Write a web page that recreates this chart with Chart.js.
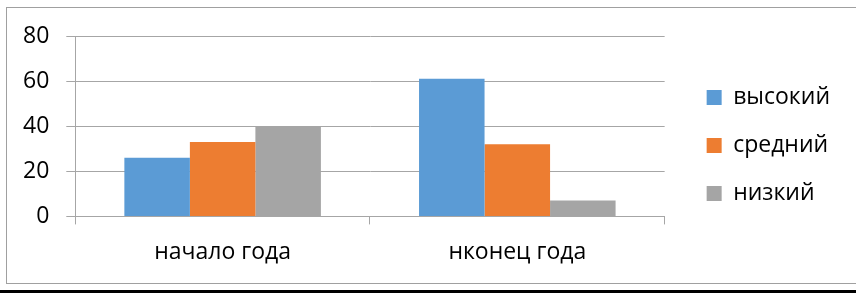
<!DOCTYPE html>
<html>
<head>
<meta charset="utf-8">
<script src="https://cdn.jsdelivr.net/npm/chart.js@4"></script>
<style>
  html, body { margin: 0; padding: 0; background: #fff; }
  #wrap { position: relative; width: 856px; height: 293px; overflow: hidden; }
  #wrap canvas { position: absolute; left: 0; top: 0; }
  .frame { position: absolute; left: 6px; top: 7px; width: 900px; height: 275px; border: 1px solid #a0a0a0; pointer-events: none; }
  .rule { position: absolute; left: 0; top: 290px; width: 856px; height: 3px; background: #000; }
</style>
</head>
<body>
<div id="wrap">
  <canvas id="chart" width="856" height="293"></canvas>
  <div class="frame"></div>
  <div class="rule"></div>
</div>
<script>
// data
const categories = ['начало года', 'нконец года'];
const seriesNames = ['высокий', 'средний', 'низкий'];
const highValues = [26, 61];
const midValues = [33, 32];
const lowValues = [40, 7];
const yTicks = [0, 20, 40, 60, 80];

const colors = ['#5b9bd5', '#ed7d31', '#a5a5a5'];
const gridColor = '#a6a6a6';
const fontFamily = '"Open Sans", sans-serif';
const fontSize = 23;

const ctx = document.getElementById('chart').getContext('2d');
new Chart(ctx, {
    type: 'bar',
    data: {
        labels: categories,
        datasets: [highValues, midValues, lowValues].map((vals, i) => ({
            label: seriesNames[i],
            data: vals,
            backgroundColor: colors[i],
            borderWidth: 0,
            categoryPercentage: 0.667,
            barPercentage: 1
        }))
    },
    options: {
        responsive: false,
        animation: false,
        layout: { padding: { left: 6, top: 36, right: 16, bottom: 13 } },
        plugins: {
            tooltip: { enabled: false },
            legend: {
                position: 'right',
                align: 'start',
                // blank title only pushes the items down
                title: { display: true, text: ' ', font: { size: 1, lineHeight: 1 }, padding: { top: 12, bottom: 12 } },
                labels: {
                    boxWidth: 15, boxHeight: 15, padding: 25,
                    color: '#000',
                    font: { family: fontFamily, size: fontSize }
                }
            }
        },
        scales: {
            x: {
                grid: { drawOnChartArea: false, drawTicks: true, tickLength: 8, color: gridColor },
                border: { display: true, color: gridColor },
                ticks: { color: '#000', padding: 14, font: { family: fontFamily, size: fontSize } }
            },
            y: {
                min: yTicks[0], max: yTicks[yTicks.length - 1],
                afterBuildTicks: axis => { axis.ticks = yTicks.map(v => ({ value: v })); },
                grid: { color: gridColor, tickLength: 9 },
                border: { display: true, color: gridColor },
                ticks: { color: '#000', padding: 17, font: { family: fontFamily, size: fontSize } }
            },
            // hidden scale, only keeps a gap between the plot and the legend
            // (display:false so it doesn't count against the legend's max width)
            gap: {
                position: 'right',
                display: false,
                afterFit: axis => { axis.width = 17; }
            }
        }
    }
});
</script>
</body>
</html>
